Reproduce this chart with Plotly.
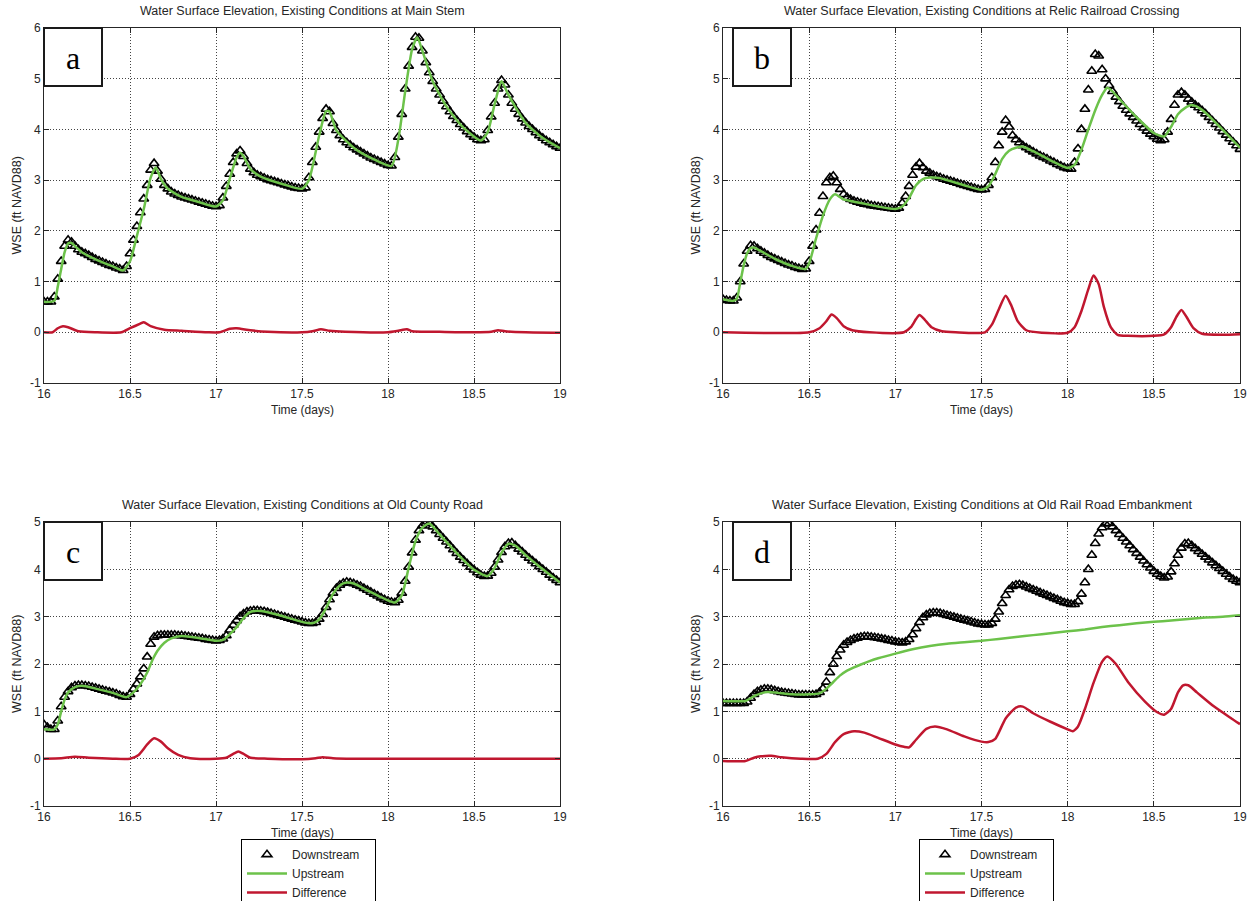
import numpy as np
import plotly.graph_objects as go

W, H = 1253, 901

# ---------------------------------------------------------
# data
# ---------------------------------------------------------
# downstream gauge is sampled every 0.02 day from 16.00 to 19.00
T_DN = np.round(np.linspace(16.0, 19.0, 151), 2)

DN_A = [0.60, 0.60, 0.60, 0.70, 1.05, 1.40, 1.70, 1.82, 1.78, 1.70,
        1.63, 1.58, 1.55, 1.52, 1.48, 1.44, 1.41, 1.38, 1.35, 1.32,
        1.30, 1.27, 1.25, 1.22, 1.30, 1.55, 1.82, 2.09, 2.36, 2.63,
        2.90, 3.20, 3.33, 3.18, 3.02, 2.90, 2.83, 2.77, 2.73, 2.70,
        2.67, 2.65, 2.63, 2.61, 2.59, 2.57, 2.55, 2.53, 2.51, 2.49,
        2.48, 2.50, 2.65, 2.88, 3.12, 3.35, 3.52, 3.58, 3.47, 3.33,
        3.22, 3.15, 3.10, 3.07, 3.04, 3.01, 2.99, 2.97, 2.95, 2.93,
        2.91, 2.89, 2.87, 2.85, 2.84, 2.83, 2.85, 3.05, 3.35, 3.65,
        3.95, 4.22, 4.40, 4.35, 4.12, 3.98, 3.88, 3.80, 3.74, 3.69,
        3.64, 3.60, 3.56, 3.52, 3.48, 3.44, 3.41, 3.38, 3.35, 3.32,
        3.29, 3.28, 3.45, 3.85, 4.30, 4.80, 5.25, 5.62, 5.82, 5.80,
        5.55, 5.32, 5.12, 4.95, 4.80, 4.68, 4.56, 4.45, 4.35, 4.26,
        4.18, 4.10, 4.03, 3.96, 3.90, 3.85, 3.80, 3.78, 3.80, 3.98,
        4.25, 4.52, 4.80, 4.97, 4.88, 4.68, 4.52, 4.40, 4.30, 4.21,
        4.13, 4.06, 4.00, 3.94, 3.88, 3.83, 3.78, 3.74, 3.70, 3.66,
        3.63]

DN_B = [0.65, 0.63, 0.62, 0.62, 0.68, 1.00, 1.35, 1.60, 1.71, 1.70,
        1.65, 1.60, 1.56, 1.52, 1.48, 1.45, 1.42, 1.39, 1.36, 1.33,
        1.31, 1.28, 1.26, 1.24, 1.25, 1.40, 1.70, 2.02, 2.35, 2.68,
        2.95, 3.05, 3.08, 2.95, 2.82, 2.72, 2.66, 2.62, 2.59, 2.57,
        2.55, 2.53, 2.52, 2.50, 2.49, 2.48, 2.47, 2.46, 2.45, 2.44,
        2.43, 2.45, 2.55, 2.68, 2.88, 3.10, 3.26, 3.33, 3.25, 3.18,
        3.14, 3.10, 3.07, 3.05, 3.02, 3.00, 2.98, 2.96, 2.94, 2.92,
        2.90, 2.88, 2.86, 2.84, 2.82, 2.81, 2.82, 2.90, 3.05, 3.35,
        3.68, 3.95, 4.18, 4.05, 3.88, 3.80, 3.74, 3.68, 3.64, 3.60,
        3.56, 3.52, 3.48, 3.45, 3.42, 3.38, 3.35, 3.31, 3.28, 3.25,
        3.23, 3.22, 3.35, 3.62, 4.00, 4.40, 4.78, 5.15, 5.48, 5.45,
        5.18, 5.00, 4.87, 4.75, 4.64, 4.55, 4.46, 4.38, 4.31, 4.24,
        4.17, 4.10, 4.03, 3.97, 3.91, 3.86, 3.81, 3.78, 3.80, 3.95,
        4.20, 4.48, 4.68, 4.73, 4.68, 4.60, 4.54, 4.48, 4.43, 4.37,
        4.31, 4.24, 4.17, 4.10, 4.03, 3.96, 3.89, 3.82, 3.75, 3.68,
        3.61]

DN_C = [0.72, 0.66, 0.62, 0.62, 0.80, 1.10, 1.30, 1.42, 1.50, 1.54,
        1.55, 1.55, 1.54, 1.53, 1.51, 1.49, 1.47, 1.45, 1.43, 1.41,
        1.39, 1.37, 1.34, 1.31, 1.30, 1.36, 1.47, 1.58, 1.73, 1.90,
        2.15, 2.42, 2.57, 2.60, 2.61, 2.61, 2.61, 2.61, 2.61, 2.60,
        2.60, 2.59, 2.58, 2.57, 2.56, 2.55, 2.54, 2.52, 2.51, 2.50,
        2.49, 2.50, 2.53, 2.60, 2.72, 2.82, 2.92, 3.00, 3.06, 3.10,
        3.12, 3.13, 3.13, 3.12, 3.11, 3.09, 3.07, 3.05, 3.03, 3.01,
        2.99, 2.97, 2.95, 2.93, 2.91, 2.89, 2.87, 2.86, 2.86, 2.88,
        2.95, 3.05, 3.20, 3.36, 3.50, 3.60, 3.67, 3.71, 3.73, 3.72,
        3.70, 3.67, 3.64, 3.60, 3.56, 3.52, 3.48, 3.44, 3.40, 3.36,
        3.33, 3.31, 3.30, 3.35, 3.50, 3.75, 4.05, 4.35, 4.62, 4.82,
        4.92, 4.97, 4.97, 4.90, 4.82, 4.74, 4.66, 4.58, 4.50, 4.42,
        4.34, 4.26, 4.19, 4.12, 4.05, 3.99, 3.93, 3.88, 3.85, 3.86,
        3.92, 4.05, 4.20, 4.36, 4.48, 4.55, 4.56, 4.50, 4.43, 4.37,
        4.30, 4.24, 4.18, 4.12, 4.06, 4.00, 3.94, 3.88, 3.82, 3.77,
        3.72]

DN_D = [1.17, 1.17, 1.17, 1.17, 1.17, 1.17, 1.17, 1.20, 1.28, 1.36,
        1.42, 1.45, 1.47, 1.47, 1.46, 1.44, 1.42, 1.40, 1.39, 1.38,
        1.37, 1.36, 1.35, 1.35, 1.35, 1.35, 1.35, 1.36, 1.40, 1.48,
        1.62, 1.82, 2.00, 2.16, 2.30, 2.40, 2.46, 2.50, 2.53, 2.55,
        2.57, 2.58, 2.58, 2.57, 2.56, 2.55, 2.53, 2.52, 2.50, 2.49,
        2.47, 2.46, 2.45, 2.47, 2.52, 2.62, 2.75, 2.88, 2.98, 3.04,
        3.07, 3.08, 3.08, 3.07, 3.05, 3.03, 3.01, 2.99, 2.97, 2.95,
        2.93, 2.91, 2.89, 2.87, 2.85, 2.84, 2.83, 2.83, 2.86, 2.95,
        3.10, 3.28, 3.45, 3.57, 3.64, 3.67, 3.68, 3.66, 3.63, 3.60,
        3.57, 3.54, 3.51, 3.48, 3.45, 3.42, 3.39, 3.36, 3.33, 3.30,
        3.28, 3.26, 3.26, 3.32, 3.48, 3.72, 4.00, 4.30, 4.55, 4.75,
        4.88, 4.96, 4.97, 4.90, 4.82, 4.74, 4.66, 4.58, 4.50, 4.42,
        4.34, 4.26, 4.18, 4.10, 4.03, 3.96, 3.90, 3.85, 3.82, 3.84,
        3.95, 4.12, 4.30, 4.45, 4.54, 4.55, 4.50, 4.44, 4.38, 4.32,
        4.26, 4.20, 4.14, 4.08, 4.02, 3.96, 3.90, 3.84, 3.79, 3.75,
        3.72]

# upstream / difference: (time, value) pairs
UP_A = [(16.00, 0.60), (16.06, 0.62), (16.08, 0.90), (16.10, 1.25), (16.12, 1.58), (16.14, 1.75),
        (16.16, 1.76), (16.18, 1.70), (16.22, 1.58), (16.30, 1.44), (16.40, 1.30), (16.46, 1.22),
        (16.50, 1.40), (16.54, 1.90), (16.58, 2.43), (16.62, 3.05), (16.65, 3.25), (16.68, 3.02),
        (16.72, 2.83), (16.80, 2.67), (16.90, 2.57), (17.00, 2.48), (17.04, 2.60), (17.08, 3.03),
        (17.12, 3.45), (17.14, 3.54), (17.16, 3.47), (17.20, 3.22), (17.26, 3.07), (17.40, 2.91),
        (17.50, 2.83), (17.54, 3.00), (17.60, 3.88), (17.64, 4.36), (17.66, 4.35), (17.70, 3.98),
        (17.80, 3.64), (17.90, 3.44), (18.02, 3.28), (18.06, 3.80), (18.10, 4.75), (18.14, 5.58),
        (18.17, 5.82), (18.20, 5.55), (18.26, 4.95), (18.34, 4.45), (18.44, 4.03), (18.54, 3.78),
        (18.58, 3.95), (18.62, 4.50), (18.66, 4.95), (18.70, 4.68), (18.80, 4.13), (18.90, 3.83),
        (19.00, 3.63)]
DIF_A = [(16.00, 0.00), (16.05, 0.00), (16.08, 0.08), (16.11, 0.12), (16.14, 0.10), (16.20, 0.02),
         (16.30, 0.00), (16.45, 0.00), (16.50, 0.08), (16.56, 0.17), (16.58, 0.20), (16.62, 0.12),
         (16.70, 0.05), (16.80, 0.03), (16.95, 0.00), (17.02, 0.00), (17.08, 0.07), (17.12, 0.08),
         (17.20, 0.04), (17.30, 0.01), (17.50, 0.00), (17.56, 0.02), (17.61, 0.06), (17.66, 0.03),
         (17.75, 0.01), (18.00, 0.00), (18.06, 0.03), (18.11, 0.06), (18.14, 0.02), (18.30, 0.01),
         (18.50, 0.00), (18.60, 0.01), (18.64, 0.04), (18.68, 0.02), (18.80, 0.00), (19.00, -0.01)]

UP_B = [(16.00, 0.65), (16.06, 0.62), (16.08, 0.66), (16.10, 0.98), (16.12, 1.32), (16.14, 1.56),
        (16.16, 1.66), (16.18, 1.67), (16.22, 1.60), (16.30, 1.45), (16.40, 1.31), (16.48, 1.25),
        (16.50, 1.36), (16.54, 1.85), (16.58, 2.30), (16.62, 2.62), (16.65, 2.72), (16.70, 2.62),
        (16.80, 2.55), (16.90, 2.48), (17.00, 2.43), (17.04, 2.48), (17.08, 2.65), (17.12, 2.90),
        (17.16, 3.02), (17.20, 3.05), (17.26, 3.04), (17.30, 3.00), (17.40, 2.90), (17.50, 2.81),
        (17.54, 2.88), (17.58, 3.12), (17.62, 3.42), (17.66, 3.58), (17.70, 3.64), (17.74, 3.66),
        (17.80, 3.57), (17.90, 3.39), (18.00, 3.24), (18.04, 3.30), (18.08, 3.60), (18.12, 4.00),
        (18.16, 4.38), (18.20, 4.68), (18.23, 4.82), (18.26, 4.75), (18.30, 4.60), (18.40, 4.24),
        (18.50, 3.93), (18.56, 3.86), (18.60, 4.05), (18.64, 4.30), (18.68, 4.42), (18.72, 4.48),
        (18.76, 4.43), (18.80, 4.33), (18.90, 3.99), (19.00, 3.64)]
DIF_B = [(16.00, 0.00), (16.50, 0.00), (16.56, 0.08), (16.60, 0.22), (16.63, 0.35), (16.66, 0.28),
         (16.70, 0.12), (16.75, 0.04), (16.85, 0.00), (17.05, 0.00), (17.09, 0.10), (17.12, 0.26),
         (17.14, 0.34), (17.17, 0.25), (17.21, 0.10), (17.27, 0.02), (17.35, 0.00), (17.52, 0.00),
         (17.56, 0.15), (17.60, 0.45), (17.64, 0.72), (17.67, 0.55), (17.71, 0.22), (17.76, 0.04),
         (17.85, -0.01), (18.00, -0.01), (18.04, 0.10), (18.08, 0.42), (18.12, 0.85), (18.15, 1.12),
         (18.18, 0.95), (18.21, 0.50), (18.25, 0.10), (18.29, -0.05), (18.35, -0.07), (18.50, -0.07),
         (18.56, -0.04), (18.60, 0.10), (18.63, 0.30), (18.66, 0.44), (18.69, 0.30), (18.73, 0.08),
         (18.78, -0.03), (18.90, -0.05), (19.00, -0.04)]

UP_C = [(16.00, 0.62), (16.06, 0.62), (16.08, 0.72), (16.10, 1.00), (16.12, 1.25), (16.14, 1.40),
        (16.18, 1.51), (16.22, 1.54), (16.30, 1.48), (16.40, 1.39), (16.48, 1.30), (16.52, 1.40),
        (16.56, 1.57), (16.60, 1.82), (16.63, 2.08), (16.66, 2.28), (16.70, 2.45), (16.74, 2.54),
        (16.80, 2.59), (16.90, 2.55), (17.00, 2.49), (17.04, 2.51), (17.08, 2.63), (17.12, 2.78),
        (17.16, 2.97), (17.20, 3.10), (17.26, 3.12), (17.36, 3.04), (17.50, 2.89), (17.56, 2.86),
        (17.60, 2.94), (17.64, 3.18), (17.68, 3.48), (17.72, 3.66), (17.76, 3.72), (17.80, 3.70),
        (17.90, 3.52), (18.04, 3.30), (18.08, 3.45), (18.12, 4.03), (18.16, 4.60), (18.20, 4.88),
        (18.24, 4.97), (18.30, 4.74), (18.40, 4.34), (18.50, 3.99), (18.58, 3.86), (18.62, 4.03),
        (18.66, 4.35), (18.70, 4.54), (18.74, 4.50), (18.80, 4.30), (18.90, 4.00), (19.00, 3.72)]
DIF_C = [(16.00, 0.00), (16.10, 0.01), (16.18, 0.04), (16.26, 0.02), (16.40, 0.00), (16.50, 0.00),
         (16.55, 0.08), (16.60, 0.30), (16.64, 0.43), (16.68, 0.36), (16.72, 0.22), (16.78, 0.08),
         (16.85, 0.01), (17.00, 0.00), (17.06, 0.02), (17.10, 0.10), (17.13, 0.15), (17.16, 0.10),
         (17.20, 0.02), (17.30, 0.00), (17.50, -0.01), (17.58, 0.01), (17.62, 0.03), (17.68, 0.01),
         (17.80, 0.00), (18.20, 0.00), (19.00, 0.00)]

UP_D = [(16.00, 1.22), (16.13, 1.22), (16.18, 1.32), (16.22, 1.38), (16.26, 1.41), (16.32, 1.39),
        (16.40, 1.36), (16.50, 1.36), (16.56, 1.38), (16.60, 1.48), (16.64, 1.62), (16.68, 1.76),
        (16.72, 1.86), (16.76, 1.93), (16.80, 1.99), (16.85, 2.06), (16.90, 2.12), (17.00, 2.22),
        (17.10, 2.31), (17.20, 2.38), (17.30, 2.43), (17.40, 2.46), (17.50, 2.49), (17.60, 2.53),
        (17.70, 2.57), (17.80, 2.61), (17.90, 2.65), (18.00, 2.69), (18.10, 2.73), (18.20, 2.78),
        (18.30, 2.82), (18.40, 2.86), (18.50, 2.89), (18.60, 2.92), (18.70, 2.95), (18.80, 2.98),
        (18.90, 3.00), (19.00, 3.03)]
DIF_D = [(16.00, -0.05), (16.13, -0.05), (16.18, 0.02), (16.22, 0.05), (16.28, 0.06), (16.34, 0.03),
         (16.45, 0.00), (16.55, 0.00), (16.60, 0.10), (16.65, 0.35), (16.70, 0.52), (16.76, 0.58),
         (16.82, 0.55), (16.90, 0.44), (17.00, 0.30), (17.05, 0.25), (17.08, 0.24), (17.12, 0.40),
         (17.18, 0.63), (17.23, 0.68), (17.30, 0.62), (17.40, 0.47), (17.50, 0.36), (17.54, 0.35),
         (17.58, 0.42), (17.64, 0.85), (17.70, 1.08), (17.74, 1.10), (17.80, 0.96), (17.90, 0.78),
         (18.00, 0.62), (18.03, 0.58), (18.06, 0.68), (18.10, 1.05), (18.15, 1.60), (18.20, 2.05),
         (18.23, 2.16), (18.28, 2.00), (18.35, 1.62), (18.45, 1.20), (18.52, 0.98), (18.56, 0.93),
         (18.60, 1.05), (18.64, 1.40), (18.67, 1.55), (18.70, 1.55), (18.75, 1.40), (18.85, 1.10),
         (18.95, 0.85), (19.00, 0.73)]

TITLES = ["Water Surface Elevation, Existing Conditions at Main Stem",
          "Water Surface Elevation, Existing Conditions at Relic Railroad Crossing",
          "Water Surface Elevation, Existing Conditions at Old County Road",
          "Water Surface Elevation, Existing Conditions at Old Rail Road Embankment"]
LETTERS = ["a", "b", "c", "d"]
X_TICKS = [16, 16.5, 17, 17.5, 18, 18.5, 19]
X_LABELS = ["16", "16.5", "17", "17.5", "18", "18.5", "19"]
SERIES = [(DN_A, UP_A, DIF_A), (DN_B, UP_B, DIF_B), (DN_C, UP_C, DIF_C), (DN_D, UP_D, DIF_D)]

# ---------------------------------------------------------
# layout config (pixel boxes of each panel)
# ---------------------------------------------------------
# left, right, top, bottom, ymax, legend name
PANELS = [(44, 560, 28, 383, 6, None),
          (723, 1240, 28, 383, 6, None),
          (44, 560, 522, 806, 5, "legend"),
          (723, 1240, 522, 806, 5, "legend2")]

FONT = "Liberation Sans, Arial, sans-serif"
INK = "#262626"
GREEN = "#6cc24a"
RED = "#c0172f"
PAD = "\u00a0" * 3  # a little room on the right of the legend box, like the original


def fx(px):
    return px / W


def fy(py):
    return 1 - py / H


def label(text, x, y, size, **kw):
    return dict(text=text, x=fx(x), y=fy(y), xref="paper", yref="paper",
                xanchor="center", yanchor="middle", showarrow=False,
                font=dict(family=kw.pop("family", FONT), size=size, color=kw.pop("color", INK)), **kw)


fig = go.Figure()
annotations = []
shapes = []

for i, (l, r, t, b, ymax, leg) in enumerate(PANELS):
    n = "" if i == 0 else str(i + 1)
    dn, up, dif = SERIES[i]
    show = leg is not None
    legend_kw = dict(legend=leg) if show else {}

    fig.add_trace(go.Scatter(
        x=T_DN, y=dn, mode="markers", name="Downstream" + PAD, showlegend=show,
        marker=dict(symbol="triangle-up-open", size=8.5, color="black", line=dict(width=1.6, color="black")),
        xaxis="x" + n, yaxis="y" + n, **legend_kw))
    fig.add_trace(go.Scatter(
        x=[p[0] for p in up], y=[p[1] for p in up], mode="lines", name="Upstream", showlegend=show,
        line=dict(color=GREEN, width=2.5, shape="spline", smoothing=0.6),
        xaxis="x" + n, yaxis="y" + n, **legend_kw))
    fig.add_trace(go.Scatter(
        x=[p[0] for p in dif], y=[p[1] for p in dif], mode="lines", name="Difference", showlegend=show,
        line=dict(color=RED, width=2.5, shape="spline", smoothing=0.6),
        xaxis="x" + n, yaxis="y" + n, **legend_kw))

    y_ticks = list(range(-1, ymax + 1))
    common = dict(showline=True, mirror="ticks", linecolor=INK, linewidth=1,
                  ticks="inside", ticklen=5, tickcolor=INK,
                  showgrid=True, gridcolor="#444444", griddash="1px,2px", gridwidth=1,
                  zeroline=False, tickfont=dict(family=FONT, size=12, color=INK))
    fig.update_layout(**{
        "xaxis" + n: dict(domain=[fx(l), fx(r)], range=[16, 19], tickvals=X_TICKS, ticktext=X_LABELS,
                          anchor="y" + n, **common),
        "yaxis" + n: dict(domain=[fy(b), fy(t)], range=[-1, ymax], tickvals=y_ticks,
                          ticktext=[str(v) for v in y_ticks], anchor="x" + n, **common),
    })

    cx = (l + r) / 2
    cy = (t + b) / 2
    annotations.append(label(TITLES[i], cx, t - 17, 12.5))
    annotations.append(label("Time (days)", cx, b + 27, 12))
    annotations.append(label("WSE (ft NAVD88)", l - 27, cy, 12.5, textangle=-90))

    # letter box
    bx0 = l if i % 2 == 0 else l + 10
    shapes.append(dict(type="rect", xref="paper", yref="paper", layer="above",
                       x0=fx(bx0), x1=fx(bx0 + 58), y0=fy(t + 58), y1=fy(t),
                       line=dict(color="#1a1a1a", width=2), fillcolor="white"))
    annotations.append(label(LETTERS[i], bx0 + 29, t + 30, 32,
                             family="Liberation Serif, Times New Roman, serif", color="black"))

legend_style = dict(bgcolor="white", bordercolor="black", borderwidth=1,
                    font=dict(family=FONT, size=12, color=INK),
                    itemwidth=40, xanchor="left", yanchor="top", tracegroupgap=0)

fig.update_layout(
    width=W, height=H, autosize=False,
    margin=dict(l=0, r=0, t=0, b=0, autoexpand=False),
    paper_bgcolor="white", plot_bgcolor="white",
    annotations=annotations, shapes=shapes,
    legend=dict(x=fx(241), y=fy(839), **legend_style),
    legend2=dict(x=fx(919), y=fy(839), **legend_style),
)

# figure is laid out in page pixels, so drop the default body margin
fig.write_html("out.html", config={"displayModeBar": False},
               post_script="document.body.style.margin='0px';")
